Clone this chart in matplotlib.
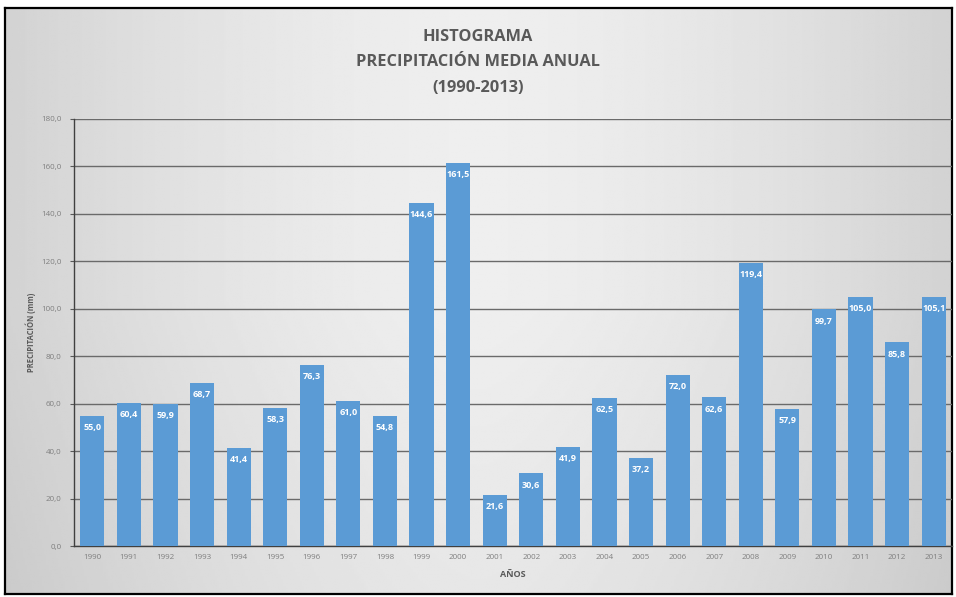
import numpy as np
import matplotlib
matplotlib.use("Agg")
import matplotlib.pyplot as plt

# Annual mean precipitation (mm), 1990-2013
years = ["1990", "1991", "1992", "1993", "1994", "1995", "1996", "1997",
         "1998", "1999", "2000", "2001", "2002", "2003", "2004", "2005",
         "2006", "2007", "2008", "2009", "2010", "2011", "2012", "2013"]
precip = [55.0, 60.4, 59.9, 68.7, 41.4, 58.3, 76.3, 61.0,
          54.8, 144.6, 161.5, 21.6, 30.6, 41.9, 62.5, 37.2,
          72.0, 62.6, 119.4, 57.9, 99.7, 105.0, 85.8, 105.1]
yticks = [0, 20, 40, 60, 80, 100, 120, 140, 160, 180]

def fmt(v):
    return f"{v:.1f}".replace(".", ",")

plt.rcParams["font.family"] = ["Open Sans", "DejaVu Sans"]

W, H = 956, 597
fig = plt.figure(figsize=(W / 100, H / 100), dpi=100)
fig.patch.set_facecolor("white")

# Chart panel with a soft grey gradient and black frame
bg = fig.add_axes([5 / W, 3 / H, 947 / W, 586 / H])
x = np.linspace(-1, 1, 400)
y = np.linspace(-1, 1, 250)
X, Y = np.meshgrid(x, y)
shade = 0.935 - 0.11 * np.abs(X) ** 1.6 - 0.03 * np.clip(Y, 0, 1)
bg.imshow(shade, cmap="gray", vmin=0, vmax=1, aspect="auto",
          extent=[0, 1, 0, 1], interpolation="bilinear")
bg.set_xlim(0, 1)
bg.set_ylim(0, 1)
bg.set_xticks([])
bg.set_yticks([])
for s in bg.spines.values():
    s.set_color("black")
    s.set_linewidth(1.6)

ax = fig.add_axes([74 / W, (H - 546) / H, (952 - 74) / W, 427 / H])
ax.patch.set_alpha(0)
pos = np.arange(len(years))
bars = ax.bar(pos, precip, width=0.66, color="#5b9bd5", zorder=3)
for b, v in zip(bars, precip):
    ax.text(b.get_x() + b.get_width() / 2, v - 3.0, fmt(v),
            ha="center", va="top", color="white", fontsize=6.5,
            fontweight="bold", zorder=4)

ax.set_xlim(-0.5, len(years) - 0.5)
ax.set_ylim(0, 180)
ax.set_yticks(yticks)
ax.set_yticklabels([fmt(t) for t in yticks], fontsize=5.8, color="#7f7f7f")
ax.set_xticks(pos)
ax.set_xticklabels(years, fontsize=5.8, color="#7f7f7f")
ax.tick_params(axis="x", length=0, pad=6)
ax.tick_params(axis="y", length=3, color="#595959", pad=6)
ax.yaxis.grid(True, color="#6a6a6a", linewidth=1.0, zorder=1)
ax.set_axisbelow(True)
for name in ["top", "right"]:
    ax.spines[name].set_visible(False)
ax.spines["left"].set_color("#404040")
ax.spines["bottom"].set_color("#404040")
ax.spines["left"].set_linewidth(1.0)
ax.spines["bottom"].set_linewidth(1.0)

ax.set_ylabel("PRECIPITACIÓN (mm)", fontsize=5.5, fontweight="bold",
              color="#595959", labelpad=4)
ax.set_xlabel("AÑOS", fontsize=6.5, fontweight="bold", color="#595959",
              labelpad=6)

title_kw = dict(ha="center", va="center", fontsize=11.8, fontweight="bold",
                color="#595959")
fig.text(0.5, 1 - 37 / H, "HISTOGRAMA", **title_kw)
fig.text(0.5, 1 - 62 / H, "PRECIPITACIÓN MEDIA ANUAL", **title_kw)
fig.text(0.5, 1 - 88 / H, "(1990-2013)", **title_kw)

fig.savefig("out.png", dpi=100)
